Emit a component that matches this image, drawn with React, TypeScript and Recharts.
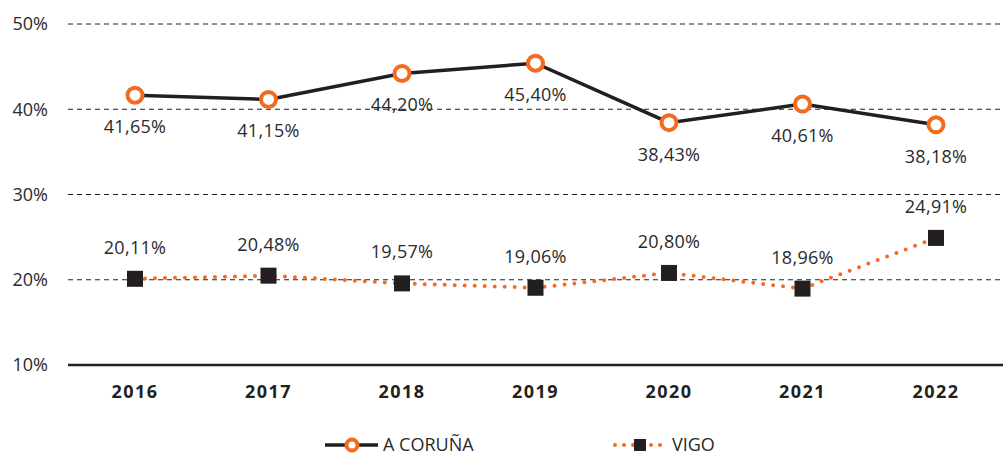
import React from "react";
import { LineChart, Line, XAxis, YAxis, CartesianGrid, LabelList, Legend } from "recharts";

const years = ["2016", "2017", "2018", "2019", "2020", "2021", "2022"];
const coruna = [41.65, 41.15, 44.2, 45.4, 38.43, 40.61, 38.18];
const vigo = [20.11, 20.48, 19.57, 19.06, 20.8, 18.96, 24.91];
const yTicks = [10, 20, 30, 40, 50];

const data = years.map((y, i) => ({ year: y, coruna: coruna[i], vigo: vigo[i] }));

const ORANGE = "#F26B21";
const DARK = "#231F20";
const FONT = "'Open Sans', sans-serif";

const fmt = (v: number) => v.toFixed(2).replace(".", ",") + "%";

const CorunaLabel = (props: any) => {
  const { x, y, value } = props;
  return (
    <text x={x} y={y + 38} textAnchor="middle" fontSize={18} fill="#2a2a2a" fontFamily={FONT} letterSpacing={0.3}>
      {fmt(value)}
    </text>
  );
};

const VigoLabel = (props: any) => {
  const { x, y, value } = props;
  return (
    <text x={x} y={y - 25} textAnchor="middle" fontSize={18} fill="#2a2a2a" fontFamily={FONT} letterSpacing={0.3}>
      {fmt(value)}
    </text>
  );
};

const CircleDot = (props: any) => {
  const { cx, cy } = props;
  return <circle cx={cx} cy={cy} r={7.5} fill="#fff" stroke={ORANGE} strokeWidth={4} />;
};

const SquareDot = (props: any) => {
  const { cx, cy } = props;
  return <rect x={cx - 8} y={cy - 8} width={16} height={16} fill={DARK} />;
};

const LegendContent = () => (
  <div style={{ position: "relative", width: 1006, height: 20, fontFamily: FONT, fontSize: 18, color: "#2a2a2a" }}>
    <svg style={{ position: "absolute", left: 322, top: 10 }} width={60} height={20}>
      <line x1={3} y1={10} x2={56} y2={10} stroke={DARK} strokeWidth={3.5} />
      <circle cx={30} cy={10} r={5.5} fill="#fff" stroke={ORANGE} strokeWidth={4} />
    </svg>
    <span style={{ position: "absolute", left: 383, top: 7 }}>A CORUÑA</span>
    <svg style={{ position: "absolute", left: 610, top: 10 }} width={62} height={20}>
      <line x1={5} y1={10} x2={58} y2={10} stroke={ORANGE} strokeWidth={4} strokeLinecap="round" strokeDasharray="0 9" />
      <rect x={24} y={4} width={12} height={12} fill={DARK} />
    </svg>
    <span style={{ position: "absolute", left: 672, top: 7 }}>VIGO</span>
  </div>
);

export default function App() {
  return (
    <div style={{ position: "absolute", left: 0, top: 0, background: "#fff" }}>
      <LineChart width={1006} height={455} data={data} margin={{ top: 24, right: 3, bottom: 0, left: 0 }}>
        <CartesianGrid vertical={false} stroke="#222" strokeDasharray="5 4" strokeWidth={1} />
        <XAxis
          dataKey="year"
          axisLine={{ stroke: DARK, strokeWidth: 2.5 }}
          tickLine={false}
          height={60}
          padding={{ left: 67, right: 67 }}
          tick={{ fontSize: 18, fontWeight: 700, fill: DARK, fontFamily: FONT, letterSpacing: 1.5 } as any}
          tickMargin={14}
        />
        <YAxis
          domain={[10, 50]}
          ticks={yTicks}
          axisLine={false}
          tickLine={false}
          width={68}
          tickMargin={14}
          tickFormatter={(v: number) => v + "%"}
          tick={{ fontSize: 18, fill: "#2a2a2a", fontFamily: FONT }}
        />
        <Legend verticalAlign="bottom" height={30} content={<LegendContent />} />
        <Line
          type="linear"
          dataKey="vigo"
          stroke={ORANGE}
          strokeWidth={4}
          strokeLinecap="round"
          strokeDasharray="0 10"
          dot={<SquareDot />}
          isAnimationActive={false}
        >
          <LabelList dataKey="vigo" content={<VigoLabel />} />
        </Line>
        <Line
          type="linear"
          dataKey="coruna"
          stroke={DARK}
          strokeWidth={3.5}
          dot={<CircleDot />}
          isAnimationActive={false}
        >
          <LabelList dataKey="coruna" content={<CorunaLabel />} />
        </Line>
      </LineChart>
    </div>
  );
}
